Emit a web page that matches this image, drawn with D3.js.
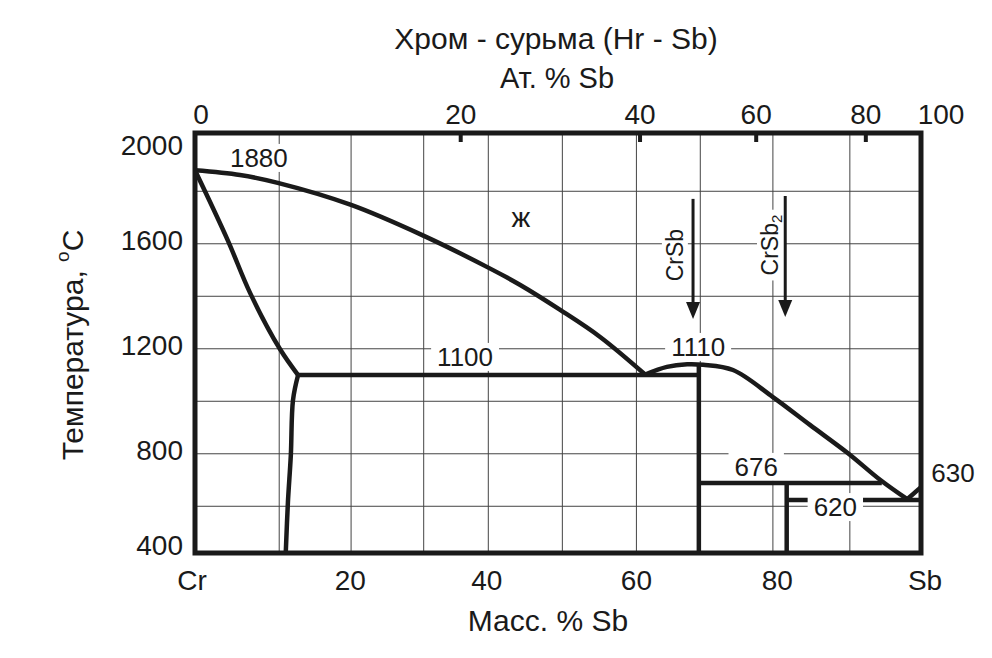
<!DOCTYPE html>
<html>
<head>
<meta charset="utf-8">
<script src="https://cdn.jsdelivr.net/npm/d3@7"></script>
<style>
  html, body { margin: 0; padding: 0; background: #fff; }
  svg { display: block; }
  text { font-family: "Liberation Sans", Arial, sans-serif; fill: #1a1a1a; }
</style>
</head>
<body>
<svg id="chart" width="992" height="658"></svg>
<script>
// ---------------- DATA (mass % Sb, temperature °C) ----------------
const title = "Хром - сурьма (Hr - Sb)";
const topAxisTitle = "Ат. % Sb";
const bottomAxisTitle = "Масс. % Sb";
const yAxisTitle = "Температура,";

const yTickValues = [2000, 1600, 1200, 800, 400];
const yGridValues = [1800, 1600, 1400, 1200, 1000, 800, 600];
const xGridValues = [11.6, 21.5, 31.5, 40.4, 50.6, 60.8, 69.6, 79.6, 90.2];

const bottomTickLabels = ["Cr", "20", "40", "60", "80", "Sb"];
const bottomTickAt     = [0, 21.4, 40.2, 60.8, 80.2, 100];

const topTickLabels = ["0", "20", "40", "60", "80", "100"];
const topTickAt     = [0, 36.6, 61.3, 77.3, 92.4, 100];   // mass-% position of each at.% tick

const liquidusCr   = [[0,1880],[6.2,1862],[11.4,1832],[21.5,1748],[31.3,1633],[40.2,1512],[44.8,1443],[50.3,1348],[55.8,1245],[62.0,1102]];
const liquidusCrSb = [[62.0,1102],[65.0,1131],[67.8,1141],[70.0,1139],[74.1,1119],[79.6,1016],[84.7,910],[89.9,803],[94.4,700],[98.1,627]];
const liquidusSb   = [[98.1,627],[100,673]];
const solidusCr    = [[0,1880],[4.5,1614],[7.6,1412],[11.7,1199],[14.2,1100]];
const solvusCr     = [[14.2,1100],[13.5,1005],[13.2,795],[12.8,616],[12.5,422]];
const eutectic1100 = [[14.2,1100],[69.4,1100]];
const crsbLine     = [[69.4,1140],[69.4,422]];
const peritectic676= [[69.4,689],[94.6,689]];
const crsb2Line    = [[81.5,689],[81.5,422]];
const eutectic620  = [[81.5,624],[100,624]];

const arrowCrSb  = [[68.6,1771],[68.6,1313]];
const arrowCrSb2 = [[81.3,1782],[81.3,1321]];

const annotations = [
  {text:"1880", x:8.8,  t:1927, cover:false},
  {text:"ж",    x:44.9, t:1702, cover:false},
  {text:"1100", x:37.2, t:1169, cover:false},
  {text:"1110", x:69.3, t:1207, cover:false},
  {text:"676",  x:77.3, t:750,  cover:false},
  {text:"620",  x:88.2, t:597,  cover:true},
  {text:"630",  x:104.4,t:727,  cover:false}
];

// ---------------- LAYOUT ----------------
const frame = {left:195, right:921, top:133, bottom:553};
const svg = d3.select("#chart");
const x = d3.scaleLinear().domain([0,100]).range([frame.left, frame.right]);
const y = d3.scaleLinear().domain([422,2022]).range([frame.bottom, frame.top]);

// grid
const grid = svg.append("g").attr("stroke","#444").attr("stroke-width",1);
grid.selectAll("line.h").data(yGridValues).join("line")
  .attr("x1",frame.left).attr("x2",frame.right)
  .attr("y1",d=>y(d)).attr("y2",d=>y(d));
grid.selectAll("line.v").data(xGridValues).join("line")
  .attr("y1",frame.top).attr("y2",frame.bottom)
  .attr("x1",d=>x(d)).attr("x2",d=>x(d));

const annBgLayer = svg.append("g");
const curveLayer = svg.append("g");
const annTopBg = svg.append("g");
const annTextLayer = svg.append("g");

annotations.forEach(a => {
  const t = annTextLayer.append("text").attr("x", x(a.x)).attr("y", y(a.t))
    .attr("text-anchor","middle").attr("dominant-baseline","central")
    .attr("font-size", a.text === "ж" ? 28 : 26).text(a.text);
  const b = t.node().getBBox();
  (a.cover ? annTopBg : annBgLayer).append("rect")
    .attr("x", b.x-6).attr("y", b.y+1).attr("width", b.width+12).attr("height", b.height-2)
    .attr("fill","#fff");
});

// curves
const lineSmooth = d3.line().x(d=>x(d[0])).y(d=>y(d[1])).curve(d3.curveCatmullRom.alpha(0.5));
const lineStraight = d3.line().x(d=>x(d[0])).y(d=>y(d[1]));
const thick = 4.5;
[liquidusCr, liquidusCrSb, solidusCr, solvusCr].forEach(s => {
  curveLayer.append("path").attr("d", lineSmooth(s)).attr("fill","none")
    .attr("stroke","#1a1a1a").attr("stroke-width",thick).attr("stroke-linejoin","round");
});
[liquidusSb, eutectic1100, crsbLine, peritectic676, crsb2Line, eutectic620].forEach(s => {
  curveLayer.append("path").attr("d", lineStraight(s)).attr("fill","none")
    .attr("stroke","#1a1a1a").attr("stroke-width",thick).attr("stroke-linejoin","miter");
});

// arrows with rotated labels
function arrow(seg, label, sub, lx, lt) {
  const g = svg.append("g");
  const lab = g.append("text").attr("transform", `translate(${x(lx)},${y(lt)}) rotate(-90)`)
    .attr("text-anchor","middle").attr("dominant-baseline","central").attr("font-size",23);
  lab.append("tspan").text(label);
  if (sub) lab.append("tspan").attr("font-size",15).attr("dy",6).text(sub);
  const bb = lab.node().getBBox();
  g.insert("rect","text").attr("transform", `translate(${x(lx)},${y(lt)}) rotate(-90)`)
    .attr("x", bb.x-5).attr("y", bb.y).attr("width", bb.width+10).attr("height", bb.height)
    .attr("fill","#fff");
  const x0 = x(seg[0][0]), y0 = y(seg[0][1]), y1 = y(seg[1][1]);
  g.append("line").attr("x1",x0).attr("x2",x0).attr("y1",y0).attr("y2",y1-14)
    .attr("stroke","#1a1a1a").attr("stroke-width",3);
  g.append("path").attr("d", `M${x0-7},${y1-17} L${x0+7},${y1-17} L${x0},${y1} Z`).attr("fill","#1a1a1a");
}
arrow(arrowCrSb, "CrSb", null, 66.1, 1557);
arrow(arrowCrSb2, "CrSb", "2", 79.2, 1595);

// frame
svg.append("rect").attr("x",frame.left).attr("y",frame.top)
  .attr("width",frame.right-frame.left).attr("height",frame.bottom-frame.top)
  .attr("fill","none").attr("stroke","#1a1a1a").attr("stroke-width",5);

// top ticks (at.% Sb)
svg.append("g").selectAll("line").data(topTickAt.slice(1,-1)).join("line")
  .attr("x1",d=>x(d)).attr("x2",d=>x(d)).attr("y1",frame.top).attr("y2",frame.top+9)
  .attr("stroke","#1a1a1a").attr("stroke-width",4);
svg.append("g").selectAll("text").data(topTickLabels).join("text")
  .attr("x",(d,i)=> i===0 ? x(topTickAt[i])+6 : i===topTickLabels.length-1 ? x(topTickAt[i])+20 : x(topTickAt[i]))
  .attr("y",114).attr("text-anchor","middle").attr("dominant-baseline","central")
  .attr("font-size",28).text(d=>d);

// y tick labels
svg.append("g").selectAll("text").data(yTickValues).join("text")
  .attr("x",183).attr("y",d=>Math.max(frame.top+12, Math.min(frame.bottom-8, y(d)-3)))
  .attr("text-anchor","end").attr("dominant-baseline","central")
  .attr("font-size",28).text(d=>d);

// bottom tick labels
svg.append("g").selectAll("text").data(bottomTickLabels).join("text")
  .attr("x",(d,i)=>x(bottomTickAt[i]) + (i===0?-3:(i===bottomTickLabels.length-1?4:0)))
  .attr("y",580).attr("text-anchor","middle").attr("dominant-baseline","central")
  .attr("font-size",28).text(d=>d);

// titles
svg.append("text").attr("x",556).attr("y",38).attr("text-anchor","middle")
  .attr("dominant-baseline","central").attr("font-size",30).text(title);
svg.append("text").attr("x",557).attr("y",78).attr("text-anchor","middle")
  .attr("dominant-baseline","central").attr("font-size",29).text(topAxisTitle);
svg.append("text").attr("x",548).attr("y",620).attr("text-anchor","middle")
  .attr("dominant-baseline","central").attr("font-size",30).text(bottomAxisTitle);
const yt = svg.append("text").attr("transform","translate(72,345) rotate(-90)")
  .attr("text-anchor","middle").attr("dominant-baseline","central").attr("font-size",30);
yt.append("tspan").text(yAxisTitle + "   ");
yt.append("tspan").attr("font-size",19).attr("dy",-10).text("o");
yt.append("tspan").attr("dy",10).text("C");
</script>
</body>
</html>
